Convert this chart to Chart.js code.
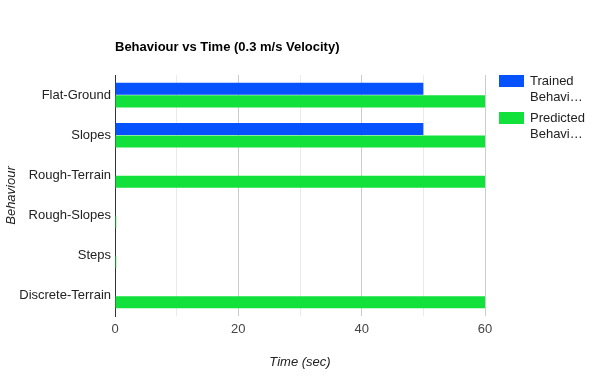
<!DOCTYPE html>
<html>
<head>
<meta charset="utf-8">
<script src="https://cdn.jsdelivr.net/npm/chart.js@4"></script>
<style>
  body { margin: 0; background: #fff; }
  #wrap { width: 600px; height: 390px; }
</style>
</head>
<body>
<div id="wrap"><canvas id="myChart" width="600" height="390"></canvas></div>
<script>
const behaviours = ["Flat-Ground", "Slopes", "Rough-Terrain", "Rough-Slopes", "Steps", "Discrete-Terrain"];
const trainedTime = [50, 50, 0, 0, 0, 0];
const predictedTime = [60, 60, 60, 0.2, 0.2, 60];
const seriesNames = ["Trained Behaviour", "Predicted Behaviour"];
const legendLines = [["Trained", "Behavi…"], ["Predicted", "Behavi…"]];
const xTicksShown = [0, 20, 40, 60];

const BLUE = "#0652ff";
const GREEN = "#12e13b";

Chart.defaults.font.family = "Arial, 'Liberation Sans', sans-serif";
Chart.defaults.font.size = 13;
Chart.defaults.color = "#222";

// TITLE + LEGEND DRAWN BY HAND (google style)
const sideStuff = {
  id: "sideStuff",
  afterDraw(chart) {
    const c = chart.ctx;
    c.save();
    c.fillStyle = "#000";
    c.font = "bold 13px Arial, 'Liberation Sans', sans-serif";
    c.textBaseline = "middle";
    c.textAlign = "left";
    c.fillText("Behaviour vs Time (0.3 m/s Velocity)", chart.chartArea.left, 47);

    c.font = "13px Arial, 'Liberation Sans', sans-serif";
    chart.data.datasets.forEach((ds, i) => {
      const top = 75 + i * 37;
      c.fillStyle = ds.backgroundColor;
      c.fillRect(499, top, 25, 12);
      c.fillStyle = "#222";
      legendLines[i].forEach((line, j) => {
        c.fillText(line, 530, top + 6 + j * 16);
      });
    });
    c.restore();
  },
};

const ctx = document.getElementById("myChart").getContext("2d");
const myChartObj = new Chart(ctx, {
  type: "bar",
  data: {
    labels: behaviours,
    datasets: [
      {
        label: seriesNames[0],
        data: trainedTime,
        backgroundColor: BLUE,
        categoryPercentage: 0.625,
        barPercentage: 0.96,
      },
      {
        label: seriesNames[1],
        data: predictedTime,
        backgroundColor: GREEN,
        categoryPercentage: 0.625,
        barPercentage: 0.96,
      },
    ],
  },
  options: {
    indexAxis: "y",
    responsive: false,
    animation: false,
    layout: { padding: { top: 75, right: 115, left: 0, bottom: 0 } },
    plugins: {
      legend: { display: false },
      tooltip: { enabled: false },
    },
    scales: {
      x: {
        min: 0,
        max: 60,
        ticks: {
          stepSize: 10,
          padding: 6,
          color: "#444",
          callback: (v) => (xTicksShown.includes(v) ? v : ""),
        },
        grid: {
          drawTicks: false,
          color: (c) => (c.tick && c.tick.value % 20 === 0 ? "#cccccc" : "#ebebeb"),
        },
        border: { display: false },
        title: {
          display: true,
          text: "Time (sec)",
          color: "#222",
          font: { style: "italic", size: 13 },
          padding: { top: 0, bottom: 20 },
        },
        afterFit(scale) {
          scale.height = 74;
        },
      },
      y: {
        grid: { display: false, drawTicks: false },
        border: { display: true, color: "#333", width: 1 },
        ticks: { padding: 4, color: "#222" },
        title: {
          display: true,
          text: "Behaviour",
          color: "#222",
          font: { style: "italic", size: 13 },
          padding: { top: 4, bottom: 0 },
        },
        afterFit(scale) {
          scale.width = 115;
        },
      },
    },
  },
  plugins: [sideStuff],
});
</script>
</body>
</html>
